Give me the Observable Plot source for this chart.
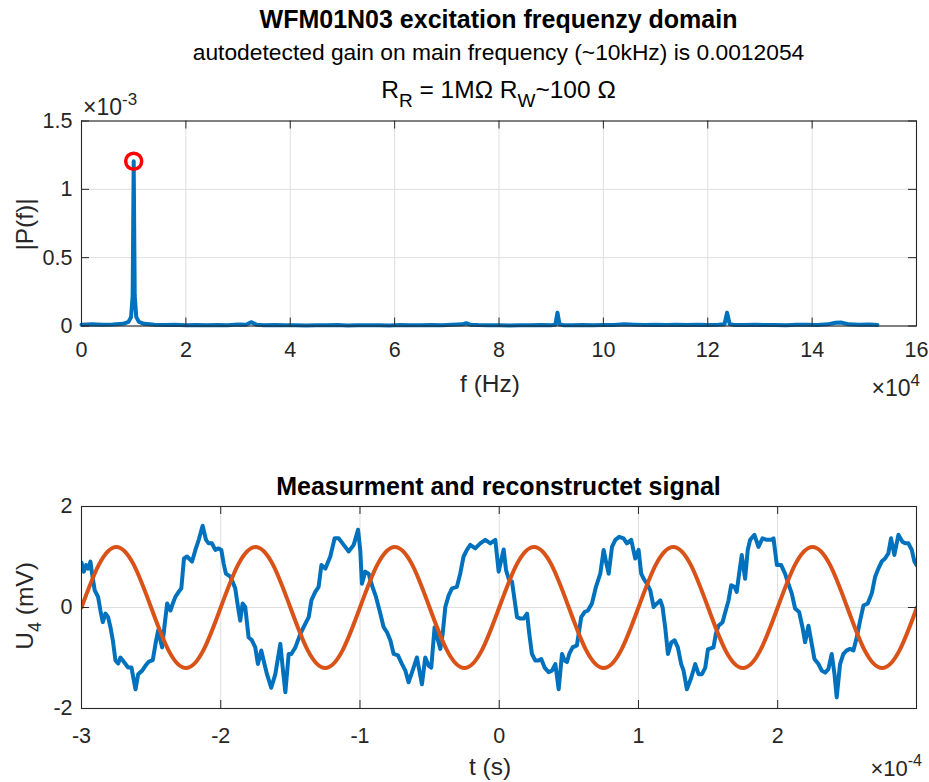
<!DOCTYPE html>
<html><head><meta charset="utf-8">
<script src="https://cdn.jsdelivr.net/npm/d3@7"></script>
<script src="https://cdn.jsdelivr.net/npm/@observablehq/plot@0.6"></script>
<style>
body{margin:0;background:#fff;}
#wrap{position:relative;width:929px;height:782px;overflow:hidden;background:#fff}
#wrap svg{position:absolute;left:0}
</style></head><body><div id="wrap"></div>
<script>
// ---------- data ----------
// spectrum: [frequency in kHz, |P(f)| in units of 1e-3]
const spectrum = [
[0,0.010],[2,0.012],[4,0.009],[6,0.011],[8,0.016],[9,0.030],[9.5,0.065],[9.8,0.22],[10,1.2054],[10.2,0.22],[10.5,0.065],[11,0.030],[12,0.016],
[14,0.010],[16,0.007],[18,0.009],[20,0.006],[22,0.008],[24,0.005],[26,0.007],[28,0.006],[30,0.011],[31.5,0.009],[32.5,0.028],[33.5,0.010],
[35,0.006],[37,0.007],[39,0.005],[41,0.006],[43,0.004],[45,0.006],[47,0.005],[49,0.007],[51,0.004],[53,0.006],[55,0.005],[57,0.006],[59,0.004],
[61,0.007],[63,0.005],[65,0.006],[67,0.008],[69,0.006],[71,0.009],[73,0.012],[73.7,0.020],[74.5,0.010],[76,0.007],[78,0.005],[80,0.006],[82,0.004],
[84,0.006],[86,0.005],[88,0.007],[90,0.006],[90.8,0.010],[91.2,0.098],[91.6,0.012],[92.5,0.006],[94,0.005],[96,0.007],[98,0.006],[100,0.008],
[102,0.007],[104,0.012],[106,0.009],[108,0.007],[110,0.010],[112,0.008],[114,0.009],[116,0.007],[118,0.010],[120,0.008],[122,0.009],[123.2,0.012],
[123.7,0.098],[124.2,0.014],[125,0.008],[127,0.007],[129,0.009],[131,0.007],[133,0.008],[135,0.006],[137,0.009],[139,0.010],[141,0.008],[143,0.012],
[144.5,0.024],[145.5,0.026],[147,0.012],[149,0.009],[151,0.011],[152.5,0.008]
];
// detected main peak: [frequency kHz, gain ×1e-3]
const mainPeak = [[10, 1.2054]];

// measured signal: [t in µs, U4 in mV]
const measured = [
[-300,0.89],[-298.3,0.71],[-296.7,0.84],[-295.2,0.77],[-293.6,0.91],[-292.4,0.67],[-290.5,0.34],[-288.1,0.21],[-286.4,-0.06],[-284.7,-0.29],
[-282.8,-0.12],[-280.9,-0.19],[-279.2,-0.39],[-277.5,-0.65],[-275.6,-1.05],[-273.7,-1.11],[-272,-0.99],[-270.3,-1.05],[-268.4,-1.12],[-266.5,-1.19],
[-264.1,-1.19],[-262.4,-1.45],[-261.2,-1.62],[-259.3,-1.32],[-256.4,-1.25],[-254,-1.15],[-251.6,-1.07],[-248.8,-1.04],[-246.4,-0.65],[-244.9,-0.45],
[-243.3,-0.65],[-242.1,-0.79],[-240.2,-0.32],[-238.5,0.08],[-236.1,-0.06],[-234.4,0.08],[-232.6,0.21],[-230.2,0.31],[-228.3,0.38],[-226.4,0.97],
[-224.2,1.01],[-220.6,0.91],[-218.2,1.14],[-215.8,1.34],[-213,1.62],[-210.6,1.34],[-208.7,1.27],[-206.3,1.27],[-203.9,1.14],[-201.5,1.17],
[-199.6,1.14],[-197.9,0.87],[-196.3,0.67],[-193.1,0.61],[-191.5,0.51],[-189.6,0.38],[-187.6,0.01],[-186,-0.26],[-184.3,0.08],[-182.4,0.01],
[-180,-0.59],[-177.6,-0.65],[-175.2,-0.79],[-173.3,-1.12],[-170.9,-0.85],[-169.2,-1.05],[-166.8,-1.32],[-163.7,-1.59],[-160.8,-1.32],[-157.2,-0.72],
[-155.5,-1.19],[-153.6,-1.68],[-151.2,-0.92],[-149.3,-0.92],[-146.4,-0.79],[-142.8,-0.52],[-139.2,-0.32],[-136.8,-0.19],[-134.9,0.14],[-132.1,0.31],
[-129.7,0.41],[-127.7,0.84],[-124.9,0.77],[-121.3,1.01],[-118.2,1.37],[-115.3,1.37],[-111.7,1.24],[-108.1,1.11],[-104.5,1.24],[-101.4,1.54],
[-99.8,1.14],[-98.6,0.47],[-96.2,0.71],[-93.8,0.67],[-91.4,0.44],[-88.5,0.21],[-85.4,-0.12],[-83,-0.39],[-80.6,-0.49],[-78.2,-0.65],
[-75.8,-0.92],[-72.7,-0.95],[-69.8,-1.12],[-67.4,-1.25],[-65.1,-1.48],[-62.2,-1.25],[-59.1,-0.99],[-55.5,-1.52],[-53.1,-0.99],[-50.7,-1.15],
[-48.8,-1.19],[-46.4,-0.39],[-44,-0.65],[-42.3,-0.82],[-40.6,-0.52],[-38.7,0.01],[-36.3,0.24],[-33.9,0.38],[-30.4,0.41],[-28,0.67],
[-25.6,1.01],[-23.2,1.14],[-20.8,1.24],[-17.2,1.17],[-13.6,1.27],[-10,1.34],[-6.4,1.27],[-2.8,1.34],[-0.4,0.71],[3.2,1.15],
[4.9,0.74],[6.8,0.57],[9.2,0.51],[11.1,0.14],[12.8,-0.19],[15.2,-0.22],[17.5,-0.22],[20,-0.12],[21.6,-0.52],[23.5,-0.92],
[25.9,-1.05],[28.3,-1.05],[30.2,-1.02],[32.6,-1.19],[35.5,-1.28],[37.9,-1.25],[40.3,-1.12],[42.7,-1.62],[45.1,-0.92],[47,-1.05],
[48.7,-1.08],[50.3,-0.92],[52.7,-0.79],[55.8,-0.75],[58.9,-0.19],[61.3,-0.09],[63.7,-0.06],[66.6,0.08],[69.5,0.41],[72.6,0.67],
[75,1.14],[76.7,0.91],[78.6,0.67],[81,1.2],[83.4,1.34],[86.2,1.4],[89.3,1.37],[91.7,1.27],[94.8,1.34],[97.7,0.97],
[100.1,1.14],[102,0.67],[103.7,0.57],[106.1,0.47],[108.5,0.34],[110.9,0.01],[113.3,0.08],[115.7,0.14],[117.3,0.01],[119.2,-0.39],
[121.2,-0.92],[123.6,-0.69],[126,-0.65],[128.3,-0.79],[130.7,-1.12],[132.4,-1.25],[134.8,-1.62],[137.9,-1.39],[140.8,-1.12],[143.2,-1.32],
[145.6,-1.32],[148,-1.19],[149.9,-0.83],[153.9,-0.79],[155.6,-0.52],[157.5,-0.36],[160.4,-0.29],[162.7,-0.06],[164.7,0.14],[166.6,0.44],
[169,0.41],[170.6,0.31],[172.3,0.67],[174.2,1.04],[176.6,0.57],[178.5,1.14],[180.2,1.34],[183.3,1.44],[186.2,1.2],[189.1,1.37],
[192.2,1.34],[195.3,1.34],[197,1.37],[199.4,0.84],[202.5,0.84],[205.3,0.67],[207.7,0.47],[210.1,0.28],[212.5,-0.02],[215.4,-0.09],
[217.8,-0.39],[219.7,-0.69],[222.1,-0.36],[224,-0.65],[226.4,-1.02],[229.3,-1.12],[231.7,-1.25],[234.1,-1.29],[236.4,-1.22],[238.8,-0.92],
[240.8,-1.32],[242.4,-1.78],[244.8,-1.12],[247.2,-0.92],[249.6,-0.85],[252,-0.82],[254.4,-0.85],[256.8,-0.59],[259.2,-0.26],[261.6,0.04],
[264.7,0.08],[267.6,0.28],[270,0.61],[272.3,0.77],[274.7,0.91],[277.1,0.97],[279.5,1.07],[281.4,1.37],[283.8,1.04],[286.7,1.44],
[289.6,1.3],[292,1.27],[293.9,1.27],[296.3,1.14],[298.2,0.91],[299.7,0.84]
];
// reconstructed signal: [t in µs, mV]
const reconstructed = [
[-300,0],[-287.5,0.85],[-275,1.2],[-262.5,0.85],[-250,0],[-237.5,-0.85],[-225,-1.2],[-212.5,-0.85],
[-200,0],[-187.5,0.85],[-175,1.2],[-162.5,0.85],[-150,0],[-137.5,-0.85],[-125,-1.2],[-112.5,-0.85],
[-100,0],[-87.5,0.85],[-75,1.2],[-62.5,0.85],[-50,0],[-37.5,-0.85],[-25,-1.2],[-12.5,-0.85],
[0,0],[12.5,0.85],[25,1.2],[37.5,0.85],[50,0],[62.5,-0.85],[75,-1.2],[87.5,-0.85],
[100,0],[112.5,0.85],[125,1.2],[137.5,0.85],[150,0],[162.5,-0.85],[175,-1.2],[187.5,-0.85],
[200,0],[212.5,0.85],[225,1.2],[237.5,0.85],[250,0],[262.5,-0.85],[275,-1.2],[287.5,-0.85],
[300,0]
];
// tick values (in axis units shown with the multipliers)
const freqTicks = [0,2,4,6,8,10,12,14,16];      // ×10^4 Hz
const magTicks = [0,0.5,1,1.5];                 // ×10^-3
const timeTicks = [-3,-2,-1,0,1,2];             // ×10^-4 s
const voltTicks = [-2,0,2];                     // mV

const titleText = "WFM01N03 excitation frequenzy domain";
const subtitleText = "autodetected gain on main frequency (~10kHz) is 0.0012054";
const bottomTitle = "Measurment and reconstructet signal";

// ---------- drawing ----------
const FONT = '"Liberation Sans", Arial, Helvetica, sans-serif';
const INK = "#262626";
const GRID = "#dedede";
const BLUE = "#0072BD", ORANGE = "#D95319";
const wrap = document.getElementById("wrap");
const W = 929;

function framedPlot({top, height, mT, mB, xDomain, yDomain, xTicks, yTicks, xFmt, yFmt, xPad, marks}) {
  const fh = height - mT - mB, fw = W - 81 - 13;
  const p = Plot.plot({
    width: W, height, marginLeft: 81, marginRight: 13, marginTop: mT, marginBottom: mB,
    x: {domain: xDomain}, y: {domain: yDomain},
    style: {fontFamily: FONT, fontSize: "21.5px", color: INK, background: "transparent", overflow: "visible"},
    marks: [
      Plot.gridX(xTicks, {stroke: GRID, strokeOpacity: 1, strokeWidth: 1}),
      Plot.gridY(yTicks, {stroke: GRID, strokeOpacity: 1, strokeWidth: 1}),
      ...marks,
      Plot.frame({stroke: INK, strokeWidth: 1.1}),
      Plot.tickX(xTicks, {x: d => d, stroke: INK, insetTop: fh - 8}),
      Plot.tickX(xTicks, {x: d => d, stroke: INK, insetBottom: fh - 8}),
      Plot.tickY(yTicks, {y: d => d, stroke: INK, insetRight: fw - 8}),
      Plot.tickY(yTicks, {y: d => d, stroke: INK, insetLeft: fw - 8}),
      Plot.axisX(xTicks, {tickSize: 0, tickPadding: xPad, tickFormat: xFmt, label: null, fill: INK}),
      Plot.axisY(yTicks, {tickSize: 0, tickPadding: 9, tickFormat: yFmt, label: null, fill: INK})
    ]
  });
  p.style.top = top + "px";
  wrap.appendChild(p);
}

const fmt = v => String(+v.toFixed(6));

framedPlot({
  top: 0, height: 400, mT: 120.5, mB: 400 - 325.5,
  xDomain: [0, 16e4], yDomain: [0, 1.5e-3],
  xTicks: freqTicks.map(v => v * 1e4), yTicks: magTicks.map(v => v * 1e-3),
  xFmt: d => fmt(d / 1e4), yFmt: d => fmt(d * 1e3), xPad: 16,
  marks: [
    Plot.line(spectrum, {x: d => d[0] * 1e3, y: d => d[1] * 1e-3, stroke: BLUE, strokeWidth: 4, strokeLinejoin: "round"}),
    Plot.dot(mainPeak, {x: d => d[0] * 1e3, y: d => d[1] * 1e-3, r: 8, stroke: "#FF0000", strokeWidth: 3.5, fill: "none"})
  ]
});

framedPlot({
  top: 400, height: 382, mT: 106, mB: 382 - 308,
  xDomain: [-3e-4, 2.997e-4], yDomain: [-2, 2],
  xTicks: timeTicks.map(v => v * 1e-4), yTicks: voltTicks,
  xFmt: d => fmt(d * 1e4), yFmt: d => fmt(d), xPad: 19,
  marks: [
    Plot.line(measured, {x: d => d[0] * 1e-6, y: d => d[1], stroke: BLUE, strokeWidth: 4, strokeLinejoin: "round", clip: true}),
    Plot.line(reconstructed, {x: d => d[0] * 1e-6, y: d => d[1], stroke: ORANGE, strokeWidth: 4, curve: "natural", clip: true})
  ]
});

// ---------- text overlay ----------
const svg = d3.select(wrap).append("svg")
  .attr("width", W).attr("height", 782).style("top", "0px")
  .attr("font-family", FONT).style("pointer-events", "none");

function txt(x, y, size, anchor, opts = {}) {
  const t = svg.append("text").attr("x", x).attr("y", y)
    .attr("font-size", size).attr("text-anchor", anchor)
    .attr("fill", opts.fill || INK);
  if (opts.bold) t.attr("font-weight", "bold");
  if (opts.rotate) t.attr("transform", `rotate(-90 ${x} ${y})`);
  return t;
}
function part(t, s, {dy = 0, size} = {}) {
  const sp = t.append("tspan").text(s);
  if (dy) sp.attr("dy", dy);
  if (size) sp.attr("font-size", size);
  return sp;
}

txt(498.5, 28, 25, "middle", {bold: true, fill: "#000"}).text(titleText);
txt(498.5, 60, 22.8, "middle", {fill: "#000"}).text(subtitleText);
{
  const t = txt(498.5, 98, 24.5, "middle", {fill: "#000"});
  part(t, "R");
  part(t, "R", {dy: 9, size: 19});
  part(t, " = 1MΩ R", {dy: -9});
  part(t, "W", {dy: 9, size: 19});
  part(t, "~100 Ω", {dy: -9});
}
{
  const t = txt(83, 115, 23, "start");
  part(t, "×10");
  part(t, "-3", {dy: -10, size: 17});
}
txt(33, 224.5, 24.5, "middle", {rotate: true}).text("|P(f)|");
txt(490, 392, 24.5, "middle").text("f (Hz)");
{
  const t = txt(920, 396, 23, "end");
  part(t, "×10");
  part(t, "4", {dy: -10, size: 17});
}
txt(498.5, 495, 25, "middle", {bold: true, fill: "#000"}).text(bottomTitle);
{
  const t = txt(33, 606, 24.5, "middle", {rotate: true});
  part(t, "U");
  part(t, "4", {dy: 8, size: 18});
  part(t, " (mV)", {dy: -8});
}
txt(490, 775, 24.5, "middle").text("t (s)");
{
  const t = txt(922, 776, 22, "end");
  part(t, "×10");
  part(t, "-4", {dy: -10, size: 16});
}
</script>
</body></html>
